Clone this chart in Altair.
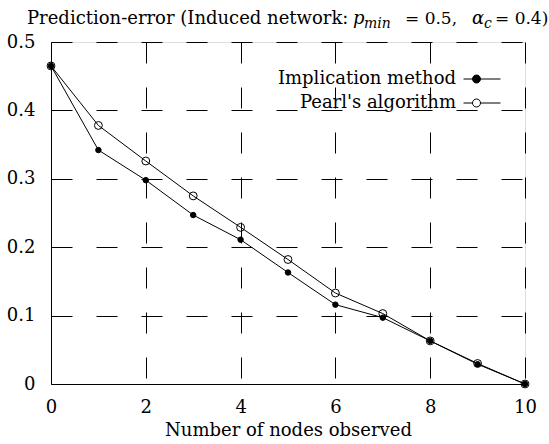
import altair as alt
import pandas as pd

nodes = [0, 1, 2, 3, 4, 5, 6, 7, 8, 9, 10]
implication = [0.465, 0.342, 0.298, 0.247, 0.211, 0.163, 0.116, 0.097, 0.063, 0.029, 0.0]
pearl = [0.465, 0.378, 0.326, 0.275, 0.229, 0.182, 0.133, 0.103, 0.063, 0.030, 0.0]
series_names = ["Implication method", "Pearl's algorithm"]
x_ticks = [0, 2, 4, 6, 8, 10]
y_ticks = [0, 0.1, 0.2, 0.3, 0.4, 0.5]

rows = []
for name, vals in zip(series_names, [implication, pearl]):
    for n, v in zip(nodes, vals):
        rows.append({"nodes": n, "error": v, "series": name})
df = pd.DataFrame(rows)

FONT = "DejaVu Serif"
FS = 18

# legend symbol: sample line with a circle (gnuplot key style), drawn right of the label
KEY_PATH = ("M3.3,0H5.1M6.7,0H10.7"
            "M6.7,0A0.8,0.8,0,1,1,5.1,0A0.8,0.8,0,1,1,6.7,0Z")

legend = alt.Legend(
    title=None,
    orient="none",
    legendX=387,
    legendY=28,
    symbolType=KEY_PATH,
    symbolSize=100,
    symbolStrokeColor="black",
    symbolStrokeWidth=1,
    labelAlign="right",
    labelOffset=0,
    labelFont=FONT,
    labelFontSize=FS,
    labelColor="black",
    labelLimit=400,
    rowPadding=6,
    padding=0,
)

xenc = alt.X("nodes:Q", scale=alt.Scale(domain=[0, 10], nice=False),
             axis=alt.Axis(values=x_ticks, title="Number of nodes observed",
                           titleY=51, titleBaseline="alphabetic", labelFlush=False))
yenc = alt.Y("error:Q", scale=alt.Scale(domain=[0, 0.5], nice=False, zero=True),
             axis=alt.Axis(values=y_ticks, format=".1~f", title=None, labelFlush=False))

lines = alt.Chart(df).mark_line(color="black", strokeWidth=1).encode(
    x=xenc, y=yenc, detail="series:N", order="nodes:Q")

# filled markers (implication) + legend carrier
points = alt.Chart(df).mark_point(shape="circle", filled=True, stroke="black",
                                  strokeWidth=1, size=30).encode(
    x=xenc, y=yenc,
    fill=alt.Fill("series:N",
                  scale=alt.Scale(domain=series_names, range=["black", "transparent"]),
                  legend=legend),
    opacity=alt.condition("datum.series == 'Implication method'", alt.value(1), alt.value(0)),
)

# open markers (Pearl's algorithm)
rings = alt.Chart(df).transform_filter(
    "datum.series != 'Implication method'"
).mark_point(shape="circle", filled=False, color="black", strokeWidth=1, size=62,
             opacity=1).encode(x=xenc, y=yenc)

# title pieces (text with sub-scripts)
title_parts = [
    ("Prediction-error (Induced network:", -24, -18, FS, "normal"),
    ("p", 302, -18, FS, "italic"),
    ("min", 313, -14, 14, "italic"),
    ("= 0.5,", 354, -18, 17, "normal"),
    ("\u03b1", 421, -18, FS, "italic"),
    ("c", 433, -14, 14, "italic"),
    ("= 0.4)", 444, -18, 17, "normal"),
]
title_layers = []
for txt, tx, ty, fs, style in title_parts:
    title_layers.append(
        alt.Chart(pd.DataFrame({"t": [txt]})).mark_text(
            align="left", baseline="alphabetic", font=FONT, fontSize=fs,
            fontStyle=style, color="black"
        ).encode(text="t:N", x=alt.value(tx), y=alt.value(ty))
    )

chart = alt.layer(lines, points, rings, *title_layers).properties(
    width=474, height=342,
    autosize=alt.AutoSizeParams(type="none"),
    padding={"left": 51, "top": 42, "right": 24, "bottom": 60},
).configure_view(
    stroke="black", strokeWidth=1, fill="white"
).configure(background="white").configure_axis(
    labelFont=FONT, labelFontSize=FS, labelColor="black",
    titleFont=FONT, titleFontSize=FS, titleColor="black", titleFontWeight="normal",
    domainColor="black", domainWidth=1,
    ticks=False,
    grid=True, gridColor="black", gridOpacity=1, gridWidth=1, gridDash=[21, 24],
).configure_axisX(labelPadding=14).configure_axisY(labelPadding=16)

chart.save("out.html", embed_options={"renderer": "svg", "actions": False})
